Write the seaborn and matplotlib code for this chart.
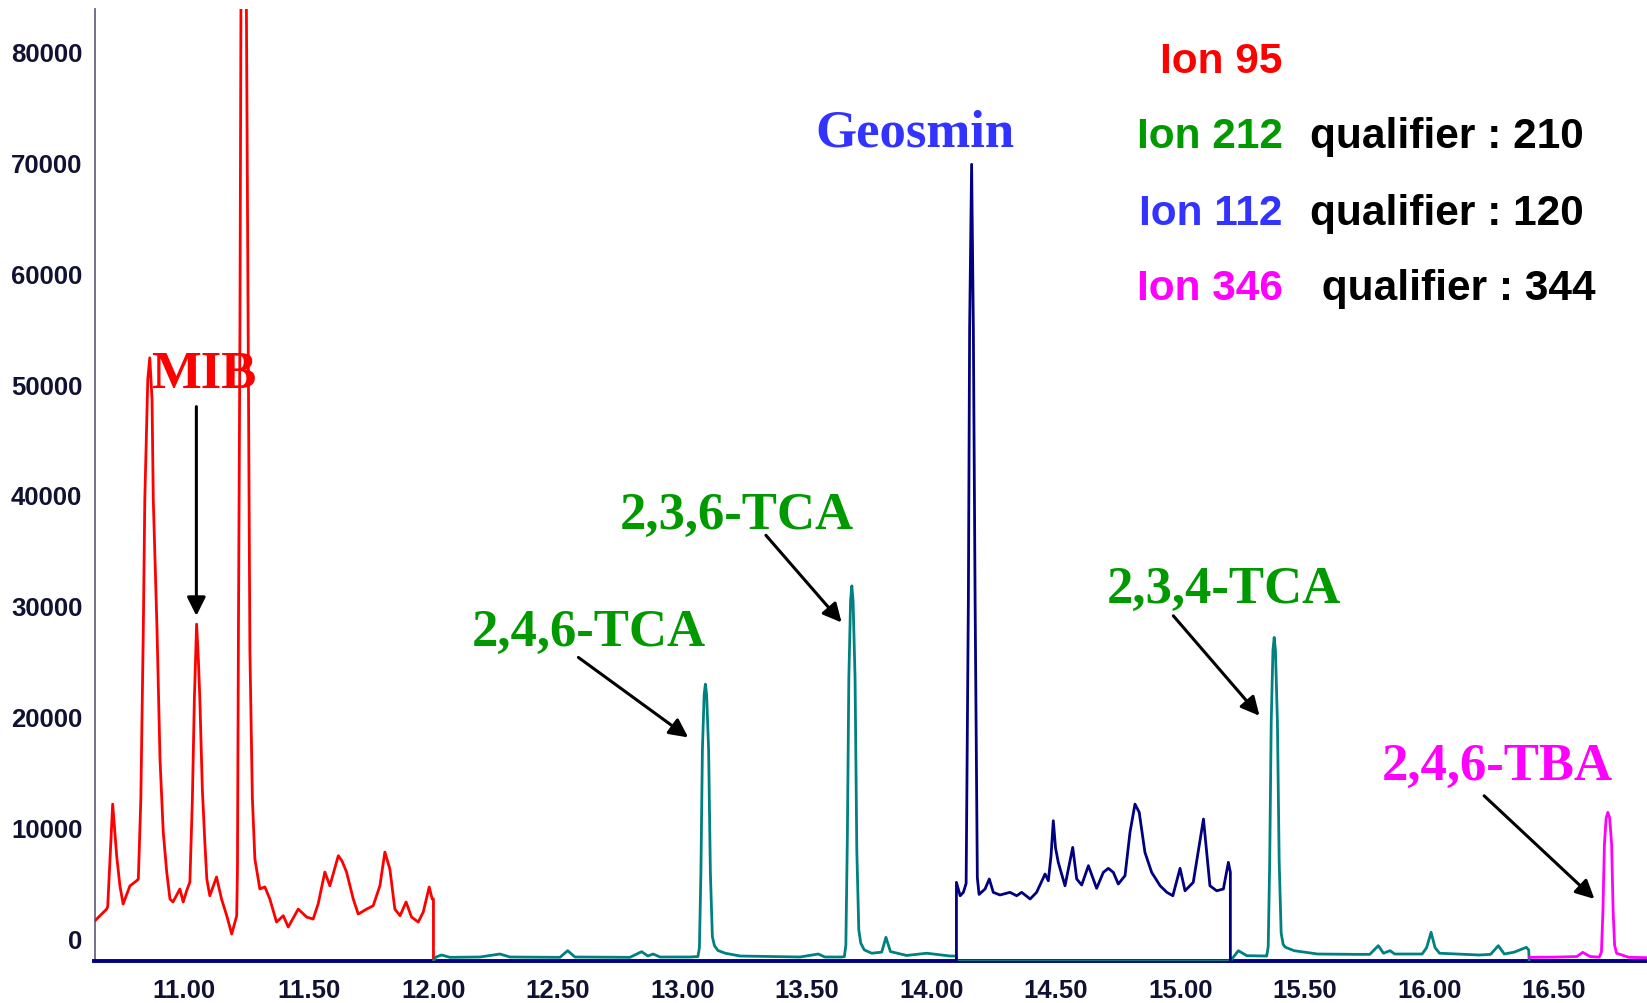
import numpy as np
import pandas as pd
import matplotlib
matplotlib.use('Agg')
import matplotlib.pyplot as plt
import seaborn as sns

# retention time (min) and abundance
# ion 95 trace (red), 10.64 - 12.00 min
red_t = [10.641, 10.661, 10.688, 10.692, 10.712, 10.728, 10.741, 10.754, 10.781, 10.808,
         10.815, 10.825, 10.835, 10.841, 10.853, 10.861, 10.870, 10.875, 10.890, 10.902,
         10.915, 10.929, 10.942, 10.954, 10.982, 10.995, 11.009, 11.022, 11.032, 11.040,
         11.049, 11.056, 11.062, 11.072, 11.082, 11.090, 11.102, 11.129, 11.149, 11.170,
         11.190, 11.210, 11.213, 11.217, 11.223, 11.227, 11.237, 11.249, 11.256, 11.263,
         11.273, 11.283, 11.303, 11.323, 11.343, 11.370, 11.397, 11.417, 11.457, 11.491,
         11.517, 11.537, 11.564, 11.584, 11.618, 11.633, 11.651, 11.678, 11.698, 11.732,
         11.758, 11.785, 11.805, 11.825, 11.845, 11.866, 11.890, 11.912, 11.939, 11.959,
         11.983, 11.995, 12.000, 12.000]
red_v = [1630, 2080, 2680, 2900, 12140, 7490, 4780, 3135, 4760, 5230,
         5390, 12600, 27910, 39630, 50430, 52360, 48630, 39630, 27910, 16200,
         9620, 6020, 3590, 3320, 4490, 3320, 4330, 5120, 12590, 21600,
         28360, 25210, 21600, 13500, 8720, 5390, 3880, 5570, 3590, 2080,
         430, 2080, 6290, 27910, 54940, 83770, 140000, 83770, 54940, 26000,
         12610, 7190, 4490, 4680, 3590, 1510, 2080, 1060, 2680, 1960,
         1780, 3140, 6020, 4780, 7490, 7010, 6020, 3590, 2230, 2680,
         2980, 4780, 7820, 6290, 2680, 2080, 3320, 1960, 1510, 2410,
         4670, 3590, 3590, -2000]

# ion 212 trace (teal), 12.00 - 16.40 min, flat on the axis while ion 112 is acquired
teal_t = [12.000, 12.010, 12.033, 12.066, 12.187, 12.267, 12.307, 12.508, 12.539, 12.568,
          12.789, 12.836, 12.861, 12.882, 12.910, 13.030, 13.062, 13.068, 13.074, 13.080,
          13.087, 13.092, 13.097, 13.105, 13.112, 13.120, 13.128, 13.142, 13.172, 13.231,
          13.472, 13.545, 13.572, 13.640, 13.650, 13.656, 13.662, 13.668, 13.675, 13.680,
          13.685, 13.693, 13.700, 13.708, 13.716, 13.730, 13.760, 13.800, 13.817, 13.835,
          13.900, 13.981, 14.074, 14.100, 14.100, 15.200, 15.200, 15.232, 15.266, 15.340,
          15.346, 15.352, 15.358, 15.364, 15.371, 15.376, 15.381, 15.389, 15.396, 15.404,
          15.412, 15.420, 15.456, 15.550, 15.700, 15.760, 15.794, 15.815, 15.841, 15.860,
          15.970, 15.988, 16.006, 16.022, 16.040, 16.200, 16.245, 16.276, 16.300, 16.340,
          16.388, 16.398, 16.400]
teal_v = [-2000, -1640, -1460, -1670, -1640, -1370, -1640, -1670, -1070, -1640,
          -1670, -1160, -1550, -1370, -1640, -1640, -1600, -800, 6000, 17000,
          22000, 22950, 22000, 17000, 6000, 200, -600, -1050, -1300, -1550,
          -1640, -1370, -1640, -1640, -1600, -600, 9000, 23500, 30500, 31810,
          30500, 23500, 8000, 800, -400, -1000, -1300, -1200, 135, -1150,
          -1500, -1300, -1550, -1550, -2000, -2000, -2000, -1070, -1520, -1550,
          -1550, -700, 7000, 19500, 26000, 27160, 26000, 19500, 7000, 500,
          -500, -750, -1070, -1370, -1400, -1400, -620, -1300, -1070, -1370,
          -1370, -800, 585, -800, -1300, -1460, -1400, -620, -1370, -1200,
          -770, -1000, -2000]

# ion 112 trace (navy), 14.10 - 15.20 min
navy_t = [14.100, 14.100, 14.115, 14.128, 14.139, 14.148, 14.153, 14.161, 14.168, 14.175,
          14.184, 14.191, 14.215, 14.232, 14.248, 14.275, 14.315, 14.342, 14.362, 14.396,
          14.422, 14.456, 14.469, 14.480, 14.489, 14.498, 14.509, 14.536, 14.567, 14.583,
          14.603, 14.630, 14.663, 14.690, 14.710, 14.730, 14.750, 14.777, 14.797, 14.817,
          14.834, 14.857, 14.884, 14.918, 14.945, 14.969, 14.998, 15.018, 15.051, 15.092,
          15.118, 15.145, 15.172, 15.192, 15.200, 15.200]
navy_v = [-2000, 5090, 3880, 4190, 5000, 30600, 55000, 69800, 55000, 30600,
          5500, 4000, 4490, 5390, 4190, 3950, 4190, 3880, 4190, 3590,
          4190, 5840, 5230, 7500, 10640, 8200, 6890, 4780, 8240, 5390,
          4850, 6590, 4550, 5990, 6350, 5990, 4940, 5690, 9600, 12140,
          11400, 7790, 5990, 4780, 4190, 3880, 6350, 4330, 5090, 10790,
          4780, 4330, 4490, 6890, 5990, -2000]

# ion 346 trace (magenta), 16.40 min to the end
mag_t = [16.400, 16.500, 16.591, 16.615, 16.645, 16.681, 16.690, 16.696, 16.702, 16.709,
         16.716, 16.723, 16.731, 16.737, 16.743, 16.751, 16.800, 16.873]
mag_v = [-1670, -1650, -1600, -1220, -1600, -1650, -1200, 2500, 8500, 10900,
         11400, 10900, 8500, 2500, -600, -1300, -1670, -1700]

# peak labels: text, centre time, baseline abundance, colour
peak_names = ['MIB', '2,4,6-TCA', '2,3,6-TCA', 'Geosmin', '2,3,4-TCA', '2,4,6-TBA']
peak_label_t = [11.078, 12.622, 13.218, 13.932, 15.172, 16.273]
peak_label_v = [49690, 26500, 37010, 71510, 30370, 14400]
peak_colors = ['#FF0000', '#009900', '#009900', '#3333FF', '#009900', '#FF00FF']
# arrows: start (t, v) -> tip (t, v); Geosmin has none
arrow_start = [(11.048, 47960), (12.582, 25360), (13.335, 36370), None, (14.971, 29110), (16.219, 12890)]
arrow_tip = [(11.048, 29110), (13.023, 18150), (13.639, 28510), None, (15.317, 20100), (16.662, 3590)]

# ion legend
ion_names = ['Ion 95', 'Ion 212', 'Ion 112', 'Ion 346']
ion_colors = ['#FF0000', '#009900', '#3333FF', '#FF00FF']
qualifiers = ['', 'qualifier : 210', 'qualifier : 120', ' qualifier : 344']

sns.set_style('white')
plt.rcParams['font.family'] = ['Liberation Sans', 'DejaVu Sans']

fig = plt.figure(figsize=(16.47, 10.04), dpi=100)
ax = fig.add_axes([94.5 / 1647, 42 / 1004, 1 - 94.5 / 1647, 952 / 1004])

traces = [(red_t, red_v, '#FF0000'), (teal_t, teal_v, '#008080'),
          (navy_t, navy_v, '#000080'), (mag_t, mag_v, '#FF00FF')]
for t, v, c in traces:
    d = pd.DataFrame({'time': t, 'abundance': v})
    sns.lineplot(data=d, x='time', y='abundance', ax=ax, color=c, lw=2.0,
                 sort=False, estimator=None, zorder=3)

ax.set_xlim(10.639, 16.873)
ax.set_ylim(-2000, 83800)
ax.set_xlabel('')
ax.set_ylabel('')

xt = np.arange(11.0, 16.51, 0.5)
ax.set_xticks(xt)
ax.set_xticklabels(['%.2f' % x for x in xt])
ax.set_xticks(np.arange(10.7, 16.85, 0.1), minor=True)
yt = np.arange(0, 80001, 10000)
ax.set_yticks(yt)
ax.set_yticklabels([str(int(y)) for y in yt])
ax.set_yticks(np.arange(-2000, 83001, 1000), minor=True)

ax.tick_params(axis='both', which='major', direction='out', length=5.8, width=1.2,
               color='#555577', labelsize=18.5, labelcolor='#111133', pad=3)
ax.tick_params(axis='both', which='minor', direction='out', length=3.6, width=1.0, color='#555577')
ax.tick_params(axis='x', which='major', length=10, pad=2)
ax.tick_params(axis='x', which='minor', length=5)
for lab in ax.get_xticklabels() + ax.get_yticklabels():
    lab.set_fontweight('bold')

sns.despine(ax=ax)
ax.spines['left'].set_color('#666680')
ax.spines['left'].set_linewidth(1.3)
ax.spines['bottom'].set_color('#000080')
ax.spines['bottom'].set_linewidth(2.8)

for i, name in enumerate(peak_names):
    ax.text(peak_label_t[i], peak_label_v[i], name, color=peak_colors[i],
            family=['Liberation Serif', 'DejaVu Serif'], fontweight='bold',
            fontsize=38, ha='center', va='baseline', zorder=4)
    if arrow_start[i] is not None:
        ax.annotate('', xy=arrow_tip[i], xytext=arrow_start[i],
                    arrowprops=dict(arrowstyle='-|>', color='black', lw=2.2,
                                    mutation_scale=28, shrinkA=0, shrinkB=0),
                    zorder=4)

ion_base_y = [73.3, 148.3, 225, 300]
for i, name in enumerate(ion_names):
    y = 1 - ion_base_y[i] / 1004
    fig.text(1282.8 / 1647, y, name, color=ion_colors[i], fontsize=30.5,
             fontweight='bold', ha='right', va='baseline')
    if qualifiers[i]:
        fig.text(1309.5 / 1647, y, qualifiers[i], color='black', fontsize=30.5,
                 fontweight='bold', ha='left', va='baseline')

fig.savefig('out.png', dpi=100)
